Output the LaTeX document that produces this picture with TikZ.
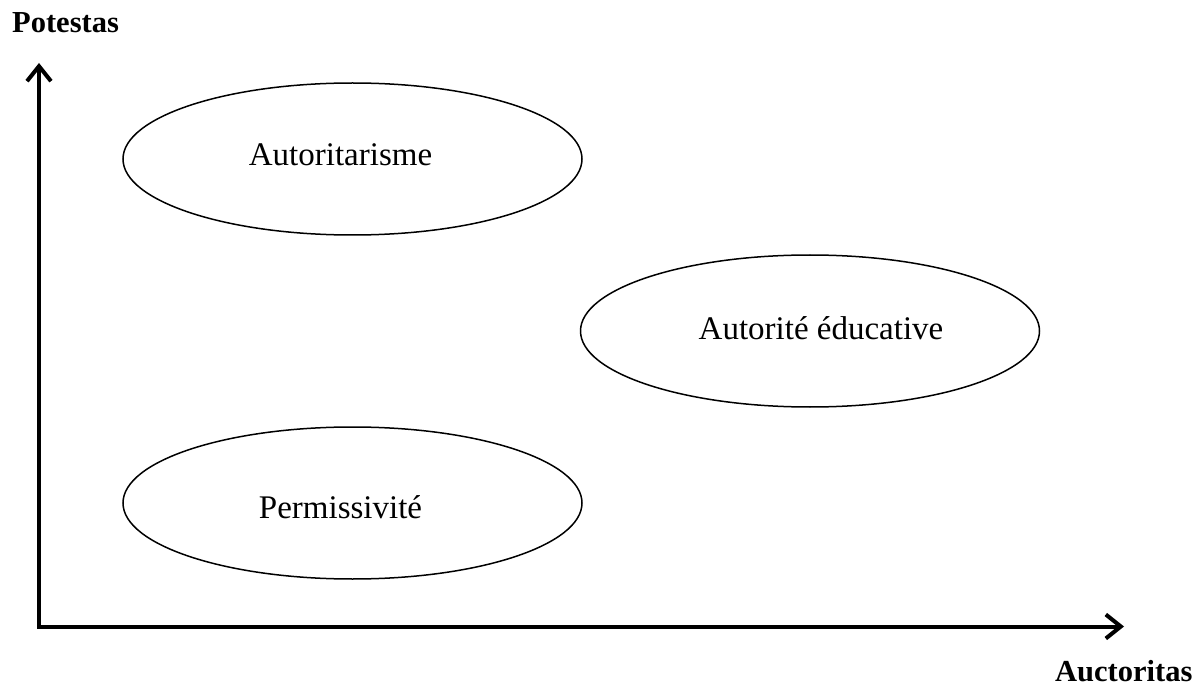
\documentclass[tikz,border=0pt]{standalone}
\usepackage{fontspec}
\setmainfont{Liberation Serif}
\usetikzlibrary{shapes.geometric,arrows.meta}
\tikzset{
  oval/.style={draw, ellipse, line width=1.5pt, minimum width=459pt, minimum height=152pt, inner sep=0pt},
  ovaltext/.style={anchor=base, inner sep=0pt, font=\fontsize{33pt}{37pt}\selectfont},
  axislabel/.style={anchor=base west, inner sep=0pt, font=\fontsize{30.5pt}{34pt}\selectfont\bfseries},
  axisline/.style={line width=4pt, -{Straight Barb[length=15pt,width=24pt]}}
}
\begin{document}
\begin{tikzpicture}[x=1pt,y=-1pt]
\useasboundingbox (0,0) rectangle (1203,687);
\coordinate (O) at (39,626.5);
\coordinate (ytip) at (39,63);
\coordinate (xtip) at (1124,626.5);
\draw[axisline] (O) -- (ytip);
\draw[axisline] (O) -- (xtip);
\draw[line width=4pt] (39,628.5) -- (39,624.5);
\node[axislabel] (pot) at (12,33) {Potestas};
\node[axislabel] (auc) at (1055,681) {Auctoritas};
\node[oval] (e1) at (352.5,159) {};
\node[oval] (e2) at (810,331) {};
\node[oval] (e3) at (352.5,503) {};
\node[ovaltext] (t1) at (340.5,166) {Autoritarisme};
\node[ovaltext] (t2) at (821,339) {Autorité éducative};
\node[ovaltext] (t3) at (340.5,518) {Permissivité};
\end{tikzpicture}
\end{document}
